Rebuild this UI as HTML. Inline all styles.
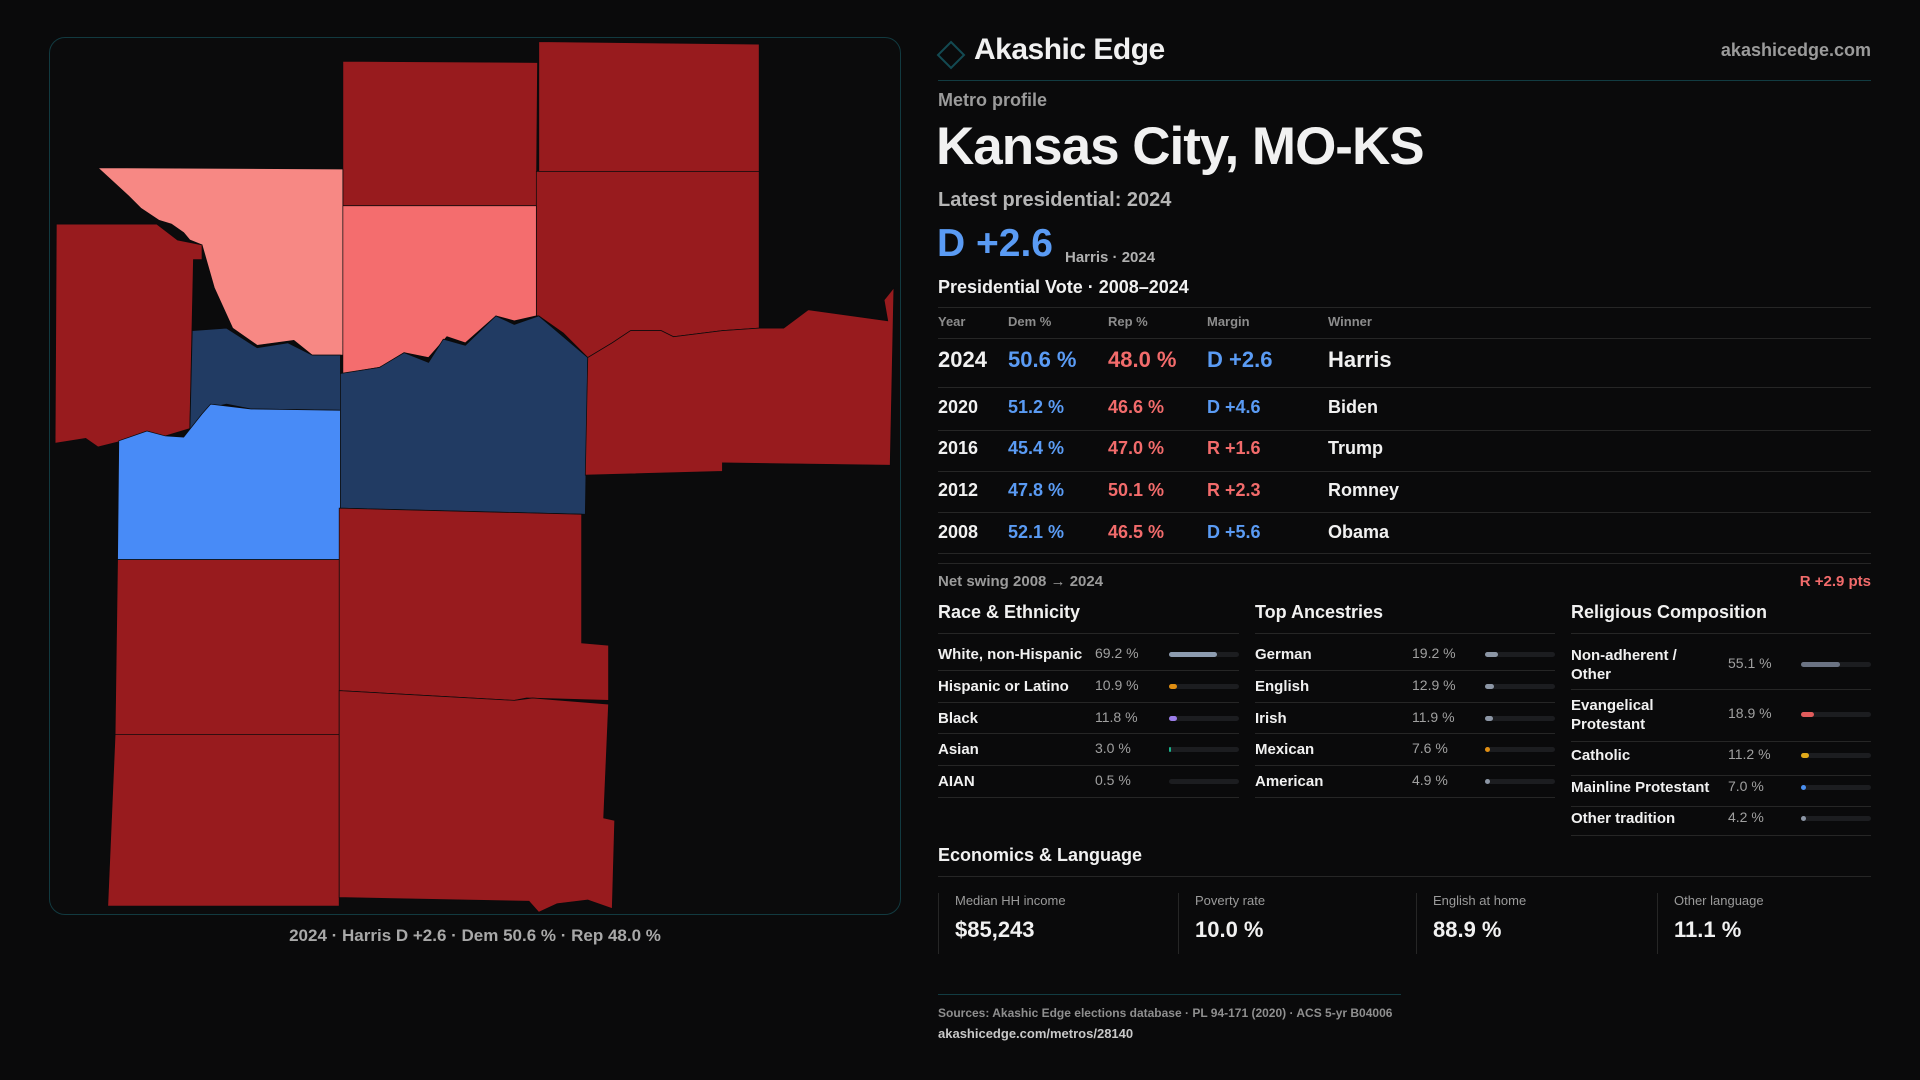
<!DOCTYPE html>
<html><head><meta charset="utf-8">
<style>
*{margin:0;padding:0;box-sizing:border-box}
body{width:1920px;height:1080px;background:#0a0a0b;color:#f1f1f1;font-family:"Liberation Sans",sans-serif;position:relative;overflow:hidden}
.a{position:absolute;white-space:nowrap}
.m{color:#9b9b9b}
.bl{color:#5a9bf4}.rd{color:#f26b6b}
.hl{position:absolute;height:1px;background:#262626}
#panel{position:absolute;left:49px;top:37px;width:852px;height:878px;border:1px solid #123a40;border-radius:16px;background:#0b0b0c}
.row{position:absolute;font-size:15px;font-weight:bold;white-space:nowrap}
.sv{position:absolute;font-size:14px;color:#a0a0a0}
.track{position:absolute;height:5px;border-radius:3px;background:#1c1d20}
.fill{position:absolute;left:0;top:0;height:5px;border-radius:3px}
.sb{position:absolute;top:893px;height:61px;border-left:1px solid #262626}
.sb .l{position:absolute;left:16px;top:0;font-size:13px;color:#9b9b9b;white-space:nowrap}
.sb .v{position:absolute;left:16px;top:24px;font-size:22px;font-weight:bold;white-space:nowrap}
</style></head><body>
<div id="panel"></div>
<svg id="map" style="position:absolute;left:0;top:0" width="1920" height="1080" viewBox="0 0 1568 882"></svg>
<div class="a m" style="left:0;width:950px;text-align:center;top:926px;font-size:17px;font-weight:bold;color:#a8a8a8">2024 · Harris D +2.6 · Dem 50.6 % · Rep 48.0 %</div>

<svg class="a" style="left:936px;top:40px" width="30" height="30"><polygon points="15,2 28,15 15,28 2,15" fill="none" stroke="#134a52" stroke-width="2"/></svg>
<div class="a" style="left:974px;top:33px;font-size:30px;font-weight:bold;letter-spacing:-0.5px">Akashic Edge</div>
<div class="a m" style="right:49px;top:40px;font-size:18px;font-weight:bold">akashicedge.com</div>
<div class="hl" style="left:938px;width:933px;top:80px;background:#123c42"></div>
<div class="a m" style="left:938px;top:90px;font-size:18px;font-weight:bold">Metro profile</div>
<div class="a" style="left:936px;top:116px;font-size:53px;font-weight:bold;letter-spacing:-1px">Kansas City, MO-KS</div>
<div class="a" style="left:938px;top:189px;font-size:20px;font-weight:bold;color:#b5b5b5">Latest presidential: 2024</div>
<div class="a bl" style="left:937px;top:222px;font-size:39px;font-weight:bold">D +2.6</div>
<div class="a m" style="left:1065px;top:249px;font-size:15px;font-weight:bold;color:#b0b0b0">Harris · 2024</div>
<div class="a" style="left:938px;top:277px;font-size:18px;font-weight:bold">Presidential Vote · 2008–2024</div>
<div class="hl" style="left:938px;width:933px;top:307px"></div>
<div id="tbl"></div>

<div class="hl" style="left:938px;width:933px;top:563px"></div>
<div class="a m" style="left:938px;top:573px;font-size:15px;font-weight:bold">Net swing 2008 → 2024</div>
<div class="a rd" style="right:49px;top:573px;font-size:15px;font-weight:bold">R +2.9 pts</div>
<div id="demo"></div>

<div class="a" style="left:938px;top:845px;font-size:18px;font-weight:bold">Economics &amp; Language</div>
<div class="hl" style="left:938px;width:933px;top:876px"></div>
<div class="sb" style="left:938px;width:240px"><div class="l">Median HH income</div><div class="v">$85,243</div></div>
<div class="sb" style="left:1178px;width:238px"><div class="l">Poverty rate</div><div class="v">10.0 %</div></div>
<div class="sb" style="left:1416px;width:241px"><div class="l">English at home</div><div class="v">88.9 %</div></div>
<div class="sb" style="left:1657px;width:214px"><div class="l">Other language</div><div class="v">11.1 %</div></div>

<div class="hl" style="left:938px;width:463px;top:994px;background:#123c42"></div>
<div class="a m" style="left:938px;top:1006px;font-size:12px;font-weight:bold;color:#8f8f8f">Sources: Akashic Edge elections database · PL 94-171 (2020) · ACS 5-yr B04006</div>
<div class="a" style="left:938px;top:1026px;font-size:13px;font-weight:bold;color:#c8c8c8">akashicedge.com/metros/28140</div>

<script>
// ---- election table data
const years=["2024","2020","2016","2012","2008"];
const demPct=[50.6,51.2,45.4,47.8,52.1];
const repPct=[48.0,46.6,47.0,50.1,46.5];
const winners=["Harris","Biden","Trump","Romney","Obama"];
// ---- county map data
const countyNames=["Clinton","Caldwell","Ray","Leavenworth","Platte","Atchison-Jefferson","Wyandotte","Johnson","Jackson","Lafayette","Cass","Miami","Linn","Bates"];
const countyMargin=[-35,-45,-38,-15,-6,-30,35,8,22,-40,-30,-40,-50,-55];
const countyShapes=[
"280,50 439,51 438,168 280,168",
"440,34 620,36 620,140 440,140",
"438,140 620,140 620,268 590,270 550,275 540,270 515,270 500,280 480,292 460,272 440,258 438,258",
"80,137 280,138 280,290 255,290 240,278 210,282 190,268 175,235 165,200 155,196 150,190 140,183 130,180 115,170 105,160",
"280,168 438,168 438,258 420,262 405,258 380,280 365,275 350,292 330,288 310,300 280,305",
"46,183 128,183 145,196 165,200 165,212 158,212 155,350 135,356 120,362 100,360 80,365 70,358 45,362",
"157,270 185,268 210,284 235,280 255,290 278,290 278,335 205,334 185,330 172,333 155,355",
"97,360 120,352 135,356 150,357 165,338 172,330 205,334 278,335 278,457 96,457",
"278,305 310,300 330,288 350,296 362,277 380,282 405,258 420,265 440,258 460,275 480,292 478,420 278,415",
"480,292 500,280 515,270 540,270 550,275 590,270 620,268 640,268 660,253 725,262 722,245 730,235 727,380 590,378 590,385 478,388",
"277,415 475,420 475,525 497,527 497,572 430,570 420,572 277,564",
"96,457 277,457 277,600 94,600",
"94,600 277,600 277,740 88,740",
"277,564 420,572 435,570 497,575 493,668 502,670 500,742 480,735 455,738 440,745 432,736 277,733"
];
function marginColor(m){
  if(m>=15) return "#213b63";
  if(m>0) return "#488bf7";
  if(m>-10) return "#f46d6e";
  if(m>-20) return "#f78884";
  return "#981b1e";
}
const NS="http://www.w3.org/2000/svg";
const svg=document.getElementById("map");
countyShapes.forEach((pts,i)=>{
  const p=document.createElementNS(NS,"polygon");
  p.setAttribute("points",pts);
  p.setAttribute("fill",marginColor(countyMargin[i]));
  p.setAttribute("stroke","#0b0b0c");
  p.setAttribute("stroke-width","0.6");
  
  
  svg.appendChild(p);
});

// ---- table
const tbl=document.getElementById("tbl");
const colX=[938,1008,1108,1207,1328];
function txt(parent,x,y,s,size,color,cls){
  const d=document.createElement("div");
  d.className="a";
  d.style.left=x+"px";d.style.top=y+"px";d.style.fontSize=size+"px";d.style.fontWeight="bold";d.style.color=color;
  d.textContent=s;parent.appendChild(d);return d;
}
["Year","Dem %","Rep %","Margin","Winner"].forEach((h,i)=>{
  const d=txt(tbl,colX[i],314,h,13,"#8c8c8c");
  
  
});
const rowY=[349,397,438,480,522], lineY=[338,387,430,471,512,553];
lineY.forEach(y=>{const l=document.createElement("div");l.className="hl";l.style.left="938px";l.style.width="933px";l.style.top=y+"px";
  
  
  tbl.appendChild(l);});
years.forEach((y,i)=>{
  const sz=i===0?22:18;
  const mg=demPct[i]-repPct[i];
  const mtxt=(mg>=0?"D +":"R +")+Math.abs(mg).toFixed(1);
  const cells=[[y,"#f1f1f1"],[demPct[i].toFixed(1)+" %","#5a9bf4"],[repPct[i].toFixed(1)+" %","#f26b6b"],[mtxt,mg>=0?"#5a9bf4":"#f26b6b"],[winners[i],"#f1f1f1"]];
  cells.forEach((c,j)=>{
    const d=txt(tbl,colX[j],rowY[i]-(i===0?2:0),c[0],sz,c[1]);
    
    
  });
});

// ---- demographics data
const raceLabels=["White, non-Hispanic","Hispanic or Latino","Black","Asian","AIAN"];
const raceValues=[69.2,10.9,11.8,3.0,0.5];
const raceColors=["#8d9cb0","#e08e12","#9b7de8","#1bb38c","#4a4a4a"];
const ancLabels=["German","English","Irish","Mexican","American"];
const ancValues=[19.2,12.9,11.9,7.6,4.9];
const ancColors=["#8c96a5","#8c96a5","#8c96a5","#e08e12","#8c96a5"];
const relLabels=["Non-adherent /\nOther","Evangelical\nProtestant","Catholic","Mainline Protestant","Other tradition"];
const relValues=[55.1,18.9,11.2,7.0,4.2];
const relColors=["#6b7383","#e05b5b","#e0a91a","#4a8ff0","#8c96a5"];

const demo=document.getElementById("demo");
function section(title,x,w,labels,values,colors,rowCenters,rowLines,valX,barX){
  const h=txt(demo,x,602,title,18,"#f1f1f1");
  
  
  const hl=document.createElement("div");hl.className="hl";hl.style.left=x+"px";hl.style.width=w+"px";hl.style.top="633px";
  
  
  demo.appendChild(hl);
  const bw=x+w-barX;
  labels.forEach((lab,i)=>{
    const lines=lab.split("\n");
    const d=document.createElement("div");d.className="row";
    d.style.left=x+"px";d.style.top=(rowCenters[i]-9*lines.length)+"px";d.style.lineHeight="19px";
    d.innerHTML=lines.join("<br>");
    
    
    demo.appendChild(d);
    const v=document.createElement("div");v.className="sv";v.style.left=valX+"px";v.style.top=(rowCenters[i]-9)+"px";
    v.textContent=values[i].toFixed(1)+" %";
    
    
    demo.appendChild(v);
    const t=document.createElement("div");t.className="track";t.style.left=barX+"px";t.style.width=bw+"px";t.style.top=(rowCenters[i]-2)+"px";
    
    
    const f=document.createElement("div");f.className="fill";
    const fw=values[i]<1?0:Math.max(values[i]<4?2:5,values[i]/100*bw);
    f.style.width=fw+"px";f.style.background=colors[i];
    
    
    t.appendChild(f);demo.appendChild(t);
    const l=document.createElement("div");l.className="hl";l.style.left=x+"px";l.style.width=w+"px";l.style.top=rowLines[i]+"px";
    
    
    demo.appendChild(l);
  });
}
section("Race & Ethnicity",938,301,raceLabels,raceValues,raceColors,[654,686,718,749,781],[670,702,733,765,797],1095,1169);
section("Top Ancestries",1255,300,ancLabels,ancValues,ancColors,[654,686,718,749,781],[670,702,733,765,797],1412,1485);
section("Religious Composition",1571,300,relLabels,relValues,relColors,[664,714,755,787,818],[689,741,775,806,835],1728,1801);
</script>
</body></html>
